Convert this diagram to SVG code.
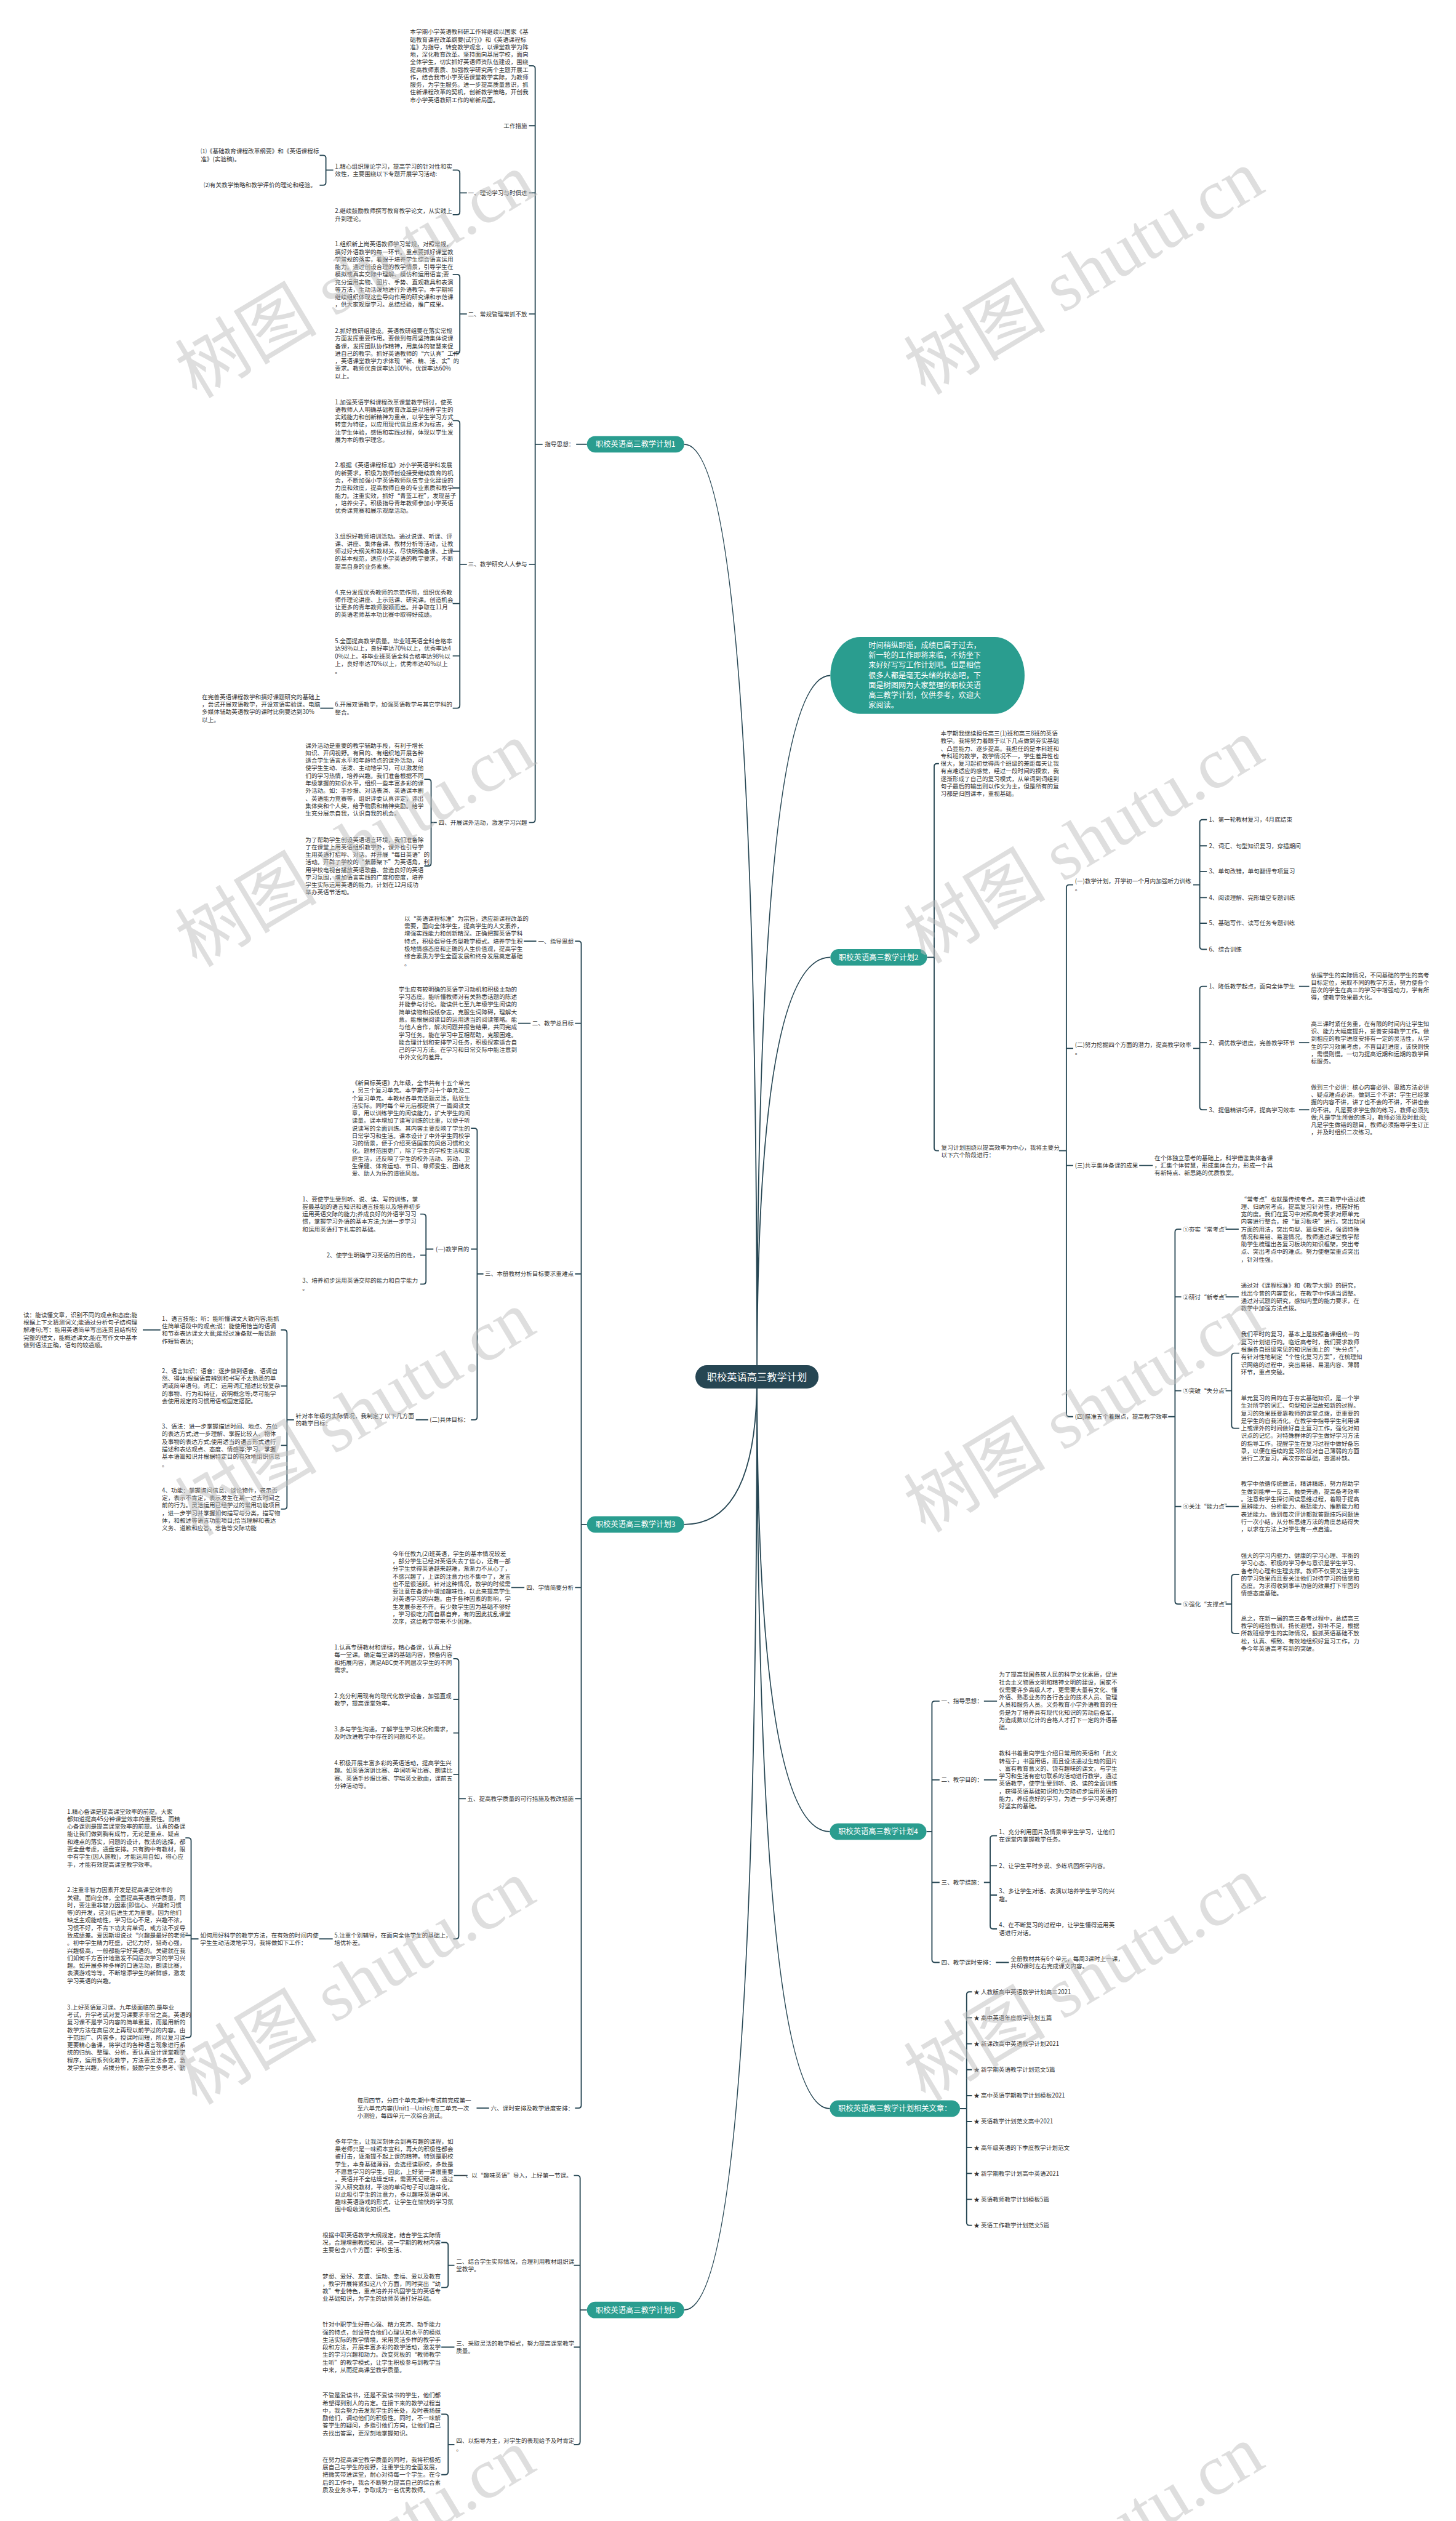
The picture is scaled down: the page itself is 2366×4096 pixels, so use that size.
<svg xmlns="http://www.w3.org/2000/svg" width="2366" height="4096" viewBox="0 0 2366 4096">
<style>
.t{font-family:"Noto Sans CJK SC","Noto Sans",sans-serif;font-size:10.4px;fill:#333}
.e{text-anchor:end}
.bn{font-family:"Noto Sans CJK SC","Noto Sans",sans-serif;font-size:13.3px;fill:#fff;text-anchor:middle}
.cn{font-family:"Noto Sans CJK SC","Noto Sans",sans-serif;font-size:17.6px;fill:#fff;text-anchor:middle}
.bb{font-family:"Noto Sans CJK SC","Noto Sans",sans-serif;font-size:13.2px;fill:#fff}
.br{fill:#2a9d8f}
.ln{fill:none;stroke:#264653;stroke-width:2}
.wm{font-family:"Liberation Serif","Noto Sans CJK SC",serif;font-size:125px;fill:#bdbdbd;fill-opacity:.5}
</style>
<rect width="2366" height="4096" fill="#fff"/>
<g transform="scale(0.9242)">
<g id="connectors" class="ln">
<path d="M1331,2421Q1331,1187.5 1460,1187.5M1331,2421Q1331,1683 1460,1683M1331,2421Q1331,3220 1459,3220M1331,2421Q1331,3707 1459,3707M1331,2421Q1331,781 1203,781M1331,2421Q1331,2680 1203,2680M1331,2421Q1331,4061 1203,4061"/>
<path d="M1032,781H1013"/>
<path d="M954,781H941M930,115.6H936Q941,115.6 941,120.6V1441Q941,1446 936,1446H930M941,221H930M941,339H930M941,552H930M941,992H930"/>
<path d="M821,339H808.5M796,299H803.5Q808.5,299 808.5,304V372.5Q808.5,377.5 803.5,377.5H796"/>
<path d="M586,299H573M562,273H568Q573,273 573,278V320.5Q573,325.5 568,325.5H562"/>
<path d="M821,552H808.5M796,482.4H803.5Q808.5,482.4 808.5,487.4V616.4Q808.5,621.4 803.5,621.4H796"/>
<path d="M821,992H808.5M796,739.5H803.5Q808.5,739.5 808.5,744.5V1240Q808.5,1245 803.5,1245H796M808.5,857.8H796M808.5,969H796M808.5,1061H796M808.5,1153H796"/>
<path d="M586,1245H563"/>
<path d="M768,1446H758M746,1370H753Q758,1370 758,1375V1517.4Q758,1522.4 753,1522.4H746"/>
<path d="M1032,2680H1022M1011,1654.5H1017Q1022,1654.5 1022,1659.5V3701Q1022,3706 1017,3706H1011M1022,1799H1011M1022,2239.5H1011M1022,2791H1011M1022,3162H1011"/>
<path d="M943,1654.5H921M933,1799H911M922,2791H899M860,3706H838"/>
<path d="M850,2239.5H839M828,1983.5H834Q839,1983.5 839,1988.5V2491Q839,2496 834,2496H828M839,2196H828"/>
<path d="M762,2196H749M739,2134.4H744Q749,2134.4 749,2139.4V2252.5Q749,2257.5 744,2257.5H739M749,2206.6H739"/>
<path d="M753,2496H731"/>
<path d="M517,2496H504.6M494,2338H499.6Q504.6,2338 504.6,2343V2648Q504.6,2653 499.6,2653H494M504.6,2436.6H494M504.6,2541H494"/>
<path d="M282,2338H251"/>
<path d="M819,3162H806.6M797,2916H801.6Q806.6,2916 806.6,2921V3403.6Q806.6,3408.6 801.6,3408.6H797M806.6,2987.6H797M806.6,3046.6H797M806.6,3119.4H797"/>
<path d="M585,3408.6H561"/>
<path d="M349,3408.6H336M326,3231H331Q336,3231 336,3236V3576.8Q336,3581.8 331,3581.8H326M336,3402.4H326"/>
<path d="M1032,4061H1020M1009,3824.5H1015Q1020,3824.5 1020,3829.5V4292.7Q1020,4297.7 1015,4297.7H1009M1020,3982.5H1009M1020,4126.3H1009"/>
<path d="M822,3824.5H798M799,4126.3H776"/>
<path d="M799,3982.5H788M776,3942.3H783Q788,3942.3 788,3947.3V4016.4Q788,4021.4 783,4021.4H776"/>
<path d="M799,4297.7H788M776,4244.2H783Q788,4244.2 788,4249.2V4345.5Q788,4350.5 783,4350.5H776"/>
<path d="M1630,1683H1642.5M1651,1342.5H1647.5Q1642.5,1342.5 1642.5,1347.5V2018Q1642.5,2023 1647.5,2023H1651"/>
<path d="M1862,2023H1875M1887,1555.6H1880Q1875,1555.6 1875,1560.6V2485.5Q1875,2490.5 1880,2490.5H1887M1875,1843H1887M1875,2049H1887"/>
<path d="M2098,1555.6H2109.5M2122,1441H2114.5Q2109.5,1441 2109.5,1446V1664Q2109.5,1669 2114.5,1669H2122M2109.5,1487H2122M2109.5,1532H2122M2109.5,1578H2122M2109.5,1623H2122"/>
<path d="M2098,1843H2109.5M2122,1734H2114.5Q2109.5,1734 2109.5,1739V1946Q2109.5,1951 2114.5,1951H2122M2109.5,1833H2122"/>
<path d="M2284,1734H2302M2284,1833H2302M2284,1951H2302M2003,2049H2027"/>
<path d="M2054,2490.5H2066M2077,2161H2071Q2066,2161 2066,2166V2815Q2066,2820 2071,2820H2077M2066,2280H2077M2066,2445H2077M2066,2648.5H2077"/>
<path d="M2155,2161H2178M2155,2280H2178M2155,2648.5H2178"/>
<path d="M2155,2445H2165.5M2179,2379H2170.5Q2165.5,2379 2165.5,2384V2506Q2165.5,2511 2170.5,2511H2179"/>
<path d="M2155,2820H2165.5M2179,2768H2170.5Q2165.5,2768 2165.5,2773V2866.6Q2165.5,2871.6 2170.5,2871.6H2179"/>
<path d="M1629,3220H1638.6M1652,2990.5H1643.6Q1638.6,2990.5 1638.6,2995.5V3445Q1638.6,3450 1643.6,3450H1652M1638.6,3129H1652M1638.6,3309.4H1652"/>
<path d="M1730,2990.5H1753M1730,3129H1753M1751,3450H1774"/>
<path d="M1730,3309.4H1741M1753,3227.3H1746Q1741,3227.3 1741,3232.3V3386Q1741,3391 1746,3391H1753M1741,3280H1753M1741,3331.5H1753"/>
<path d="M1688,3707H1699.6M1709,3501.7H1704.6Q1699.6,3501.7 1699.6,3506.7V3907.1Q1699.6,3912.1 1704.6,3912.1H1709M1699.6,3547.3H1709M1699.6,3592.9H1709M1699.6,3638.5H1709M1699.6,3684.1H1709M1699.6,3729.7H1709M1699.6,3775.3H1709M1699.6,3820.9H1709M1699.6,3866.5H1709"/>
</g>

<g id="center"><rect x="1222.7" y="2400" width="216.6" height="41" rx="20.5" fill="#264653"/><text class="cn" x="1331" y="2427.3">职校英语高三教学计划</text></g>

<g id="intro"><rect x="1460" y="1120" width="341.5" height="135" rx="52" ry="67.5" class="br"/>
<text class="bb" x="1527" y="1139.2"><tspan x="1527" dy="0">时间稍纵即逝，成绩已属于过去，</tspan><tspan x="1527" dy="17.6">新一轮的工作即将来临，不妨坐下</tspan><tspan x="1527" dy="17.6">来好好写写工作计划吧。但是相信</tspan><tspan x="1527" dy="17.6">很多人都是毫无头绪的状态吧，下</tspan><tspan x="1527" dy="17.6">面是树图网为大家整理的职校英语</tspan><tspan x="1527" dy="17.6">高三教学计划，仅供参考，欢迎大</tspan><tspan x="1527" dy="17.6">家阅读。</tspan></text></g>

<g id="b1"><rect x="1032" y="766.5" width="171" height="29" rx="14.5" class="br"/><text class="bn" x="1117.5" y="785.8">职校英语高三教学计划1</text></g>
<g id="b2"><rect x="1460" y="1668.5" width="170" height="29" rx="14.5" class="br"/><text class="bn" x="1545" y="1687.8">职校英语高三教学计划2</text></g>
<g id="b3"><rect x="1032" y="2665.5" width="171" height="29" rx="14.5" class="br"/><text class="bn" x="1117.5" y="2684.8">职校英语高三教学计划3</text></g>
<g id="b4"><rect x="1459" y="3205.5" width="170" height="29" rx="14.5" class="br"/><text class="bn" x="1544" y="3224.8">职校英语高三教学计划4</text></g>
<g id="rel"><rect x="1459" y="3692.5" width="229" height="29" rx="14.5" class="br"/><text class="bn" x="1573.5" y="3711.8">职校英语高三教学计划相关文章：</text></g>
<g id="b5"><rect x="1032" y="4046.5" width="171" height="29" rx="14.5" class="br"/><text class="bn" x="1117.5" y="4065.8">职校英语高三教学计划5</text></g>

<g id="b1-zd"><text class="t e" x="1010" y="784.8">指导思想：</text></g>
<g id="b1-p1"><text class="t" x="721" y="59.8"><tspan x="721" dy="0">本学期小学英语教科研工作将继续以国家《基</tspan><tspan x="721" dy="13.27">础教育课程改革纲要(试行)》和《英语课程标</tspan><tspan x="721" dy="13.27">准》为指导，转变教学观念，以课堂教学为阵</tspan><tspan x="721" dy="13.27">地，深化教育改革。坚持面向基层学校，面向</tspan><tspan x="721" dy="13.27">全体学生，切实抓好英语师资队伍建设，围绕</tspan><tspan x="721" dy="13.27">提高教师素质、加强教学研究两个主题开展工</tspan><tspan x="721" dy="13.27">作，结合我市小学英语课堂教学实际，为教师</tspan><tspan x="721" dy="13.27">服务，为学生服务。进一步提高质量意识，抓</tspan><tspan x="721" dy="13.27">住新课程改革的契机，创新教学策略，开创我</tspan><tspan x="721" dy="13.27">市小学英语教研工作的崭新局面。</tspan></text></g>
<g id="b1-gz"><text class="t e" x="927" y="224.8">工作措施</text></g>
<g id="b1-s1"><text class="t e" x="927" y="342.8">一、理论学习与时俱进</text></g>
<g id="b1-s1a"><text class="t" x="589" y="296.3"><tspan x="589" dy="0">1.精心组织理论学习，提高学习的针对性和实</tspan><tspan x="589" dy="13.27">效性，主要围绕以下专题开展学习活动:</tspan></text></g>
<g id="b1-s1a1"><text class="t" x="353" y="269.8"><tspan x="353" dy="0">⑴《基础教育课程改革纲要》和《英语课程标</tspan><tspan x="353" dy="13.27">准》(实验稿)。</tspan></text></g>
<g id="b1-s1a2"><text class="t e" x="556" y="329.3">⑵有关教学策略和教学评价的理论和经验。</text></g>
<g id="b1-s1b"><text class="t" x="589" y="374.8"><tspan x="589" dy="0">2.继续鼓励教师撰写教育教学论文，从实践上</tspan><tspan x="589" dy="13.27">升到理论。</tspan></text></g>
<g id="b1-s2"><text class="t e" x="927" y="555.8">二、常规管理常抓不放</text></g>
<g id="b1-s2a"><text class="t" x="589" y="433.1"><tspan x="589" dy="0">1.组织新上岗英语教师学习常规，对照常规，</tspan><tspan x="589" dy="13.27">搞好外语教学的每一环节。重点要抓好课堂教</tspan><tspan x="589" dy="13.27">学常规的落实，着眼于培养学生综合语言运用</tspan><tspan x="589" dy="13.27">能力。通过创设合理的教学情景，引导学生在</tspan><tspan x="589" dy="13.27">模拟或真实交际中理解、模仿和运用语言;要</tspan><tspan x="589" dy="13.27">充分运用实物、图片、手势、直观教具和表演</tspan><tspan x="589" dy="13.27">等方法，生动活泼地进行外语教学。本学期将</tspan><tspan x="589" dy="13.27">继续组织体现这些导向作用的研究课和示范课</tspan><tspan x="589" dy="13.27">，供大家观摩学习。总结经验，推广成果。</tspan></text></g>
<g id="b1-s2b"><text class="t" x="589" y="585.5"><tspan x="589" dy="0">2.抓好教研组建设。英语教研组要在落实常规</tspan><tspan x="589" dy="13.27">方面发挥重要作用。要做到每周坚持集体说课</tspan><tspan x="589" dy="13.27">备课，发挥团队协作精神，用集体的智慧来促</tspan><tspan x="589" dy="13.27">进自己的教学。抓好英语教师的“六认真”工作</tspan><tspan x="589" dy="13.27">，英语课堂教学力求体现“新、精、活、实”的</tspan><tspan x="589" dy="13.27">要求。教师优良课率达100%，优课率达60%</tspan><tspan x="589" dy="13.27">以上。</tspan></text></g>
<g id="b1-s3"><text class="t e" x="927" y="995.8">三、教学研究人人参与</text></g>
<g id="b1-s3a"><text class="t" x="589" y="710.4"><tspan x="589" dy="0">1.加强英语学科课程改革课堂教学研讨，使英</tspan><tspan x="589" dy="13.27">语教师人人明确基础教育改革是以培养学生的</tspan><tspan x="589" dy="13.27">实践能力和创新精神为重点，以学生学习方式</tspan><tspan x="589" dy="13.27">转变为特征，以应用现代信息技术为标志，关</tspan><tspan x="589" dy="13.27">注学生体验，感悟和实践过程，体现以学生发</tspan><tspan x="589" dy="13.27">展为本的教学理念。</tspan></text></g>
<g id="b1-s3b"><text class="t" x="589" y="821.8"><tspan x="589" dy="0">2.根据《英语课程标准》对小学英语学科发展</tspan><tspan x="589" dy="13.27">的新要求，积极为教师创设接受继续教育的机</tspan><tspan x="589" dy="13.27">会，不断加强小学英语教师队伍专业化建设的</tspan><tspan x="589" dy="13.27">力度和效度，提高教师自身的专业素质和教学</tspan><tspan x="589" dy="13.27">能力。注重实效，抓好“青蓝工程”，发现苗子</tspan><tspan x="589" dy="13.27">，培养尖子。积极指导青年教师参加小学英语</tspan><tspan x="589" dy="13.27">优秀课竞赛和展示观摩活动。</tspan></text></g>
<g id="b1-s3c"><text class="t" x="589" y="946.3"><tspan x="589" dy="0">3.组织好教师培训活动。通过说课、听课、评</tspan><tspan x="589" dy="13.27">课、讲座、集体备课、教材分析等活动，让教</tspan><tspan x="589" dy="13.27">师过好大纲关和教材关，尽快明确备课、上课</tspan><tspan x="589" dy="13.27">的基本规范，适应小学英语的教学要求，不断</tspan><tspan x="589" dy="13.27">提高自身的业务素质。</tspan></text></g>
<g id="b1-s3d"><text class="t" x="589" y="1044.8"><tspan x="589" dy="0">4.充分发挥优秀教师的示范作用，组织优秀教</tspan><tspan x="589" dy="13.27">师作理论讲座、上示范课、研究课。创造机会</tspan><tspan x="589" dy="13.27">让更多的青年教师脱颖而出。并争取在11月</tspan><tspan x="589" dy="13.27">的英语老师基本功比赛中取得好成绩。</tspan></text></g>
<g id="b1-s3e"><text class="t" x="589" y="1130.8"><tspan x="589" dy="0">5.全面提高教学质量。毕业班英语全科合格率</tspan><tspan x="589" dy="13.27">达98%以上，良好率达70%以上，优秀率达4</tspan><tspan x="589" dy="13.27">0%以上。非毕业班英语全科合格率达98%以</tspan><tspan x="589" dy="13.27">上，良好率达70%以上，优秀率达40%以上</tspan><tspan x="589" dy="13.27">。</tspan></text></g>
<g id="b1-s3f"><text class="t" x="589" y="1242.5"><tspan x="589" dy="0">6.开展双语教学，加强英语教学与其它学科的</tspan><tspan x="589" dy="13.27">整合。</tspan></text></g>
<g id="b1-s3f1"><text class="t" x="355" y="1229"><tspan x="355" dy="0">在完善英语课程教学和搞好课题研究的基础上</tspan><tspan x="355" dy="13.27">，尝试开展双语教学，开设双语实验课。电脑</tspan><tspan x="355" dy="13.27">多媒体辅助英语教学的课时比例要达到30%</tspan><tspan x="355" dy="13.27">以上。</tspan></text></g>
<g id="b1-s4"><text class="t e" x="927" y="1449.8">四、开展课外活动，激发学习兴趣</text></g>
<g id="b1-s4a"><text class="t" x="537" y="1314.3"><tspan x="537" dy="0">课外活动是重要的教学辅助手段，有利于增长</tspan><tspan x="537" dy="13.27">知识、开阔视野。有目的、有组织地开展各种</tspan><tspan x="537" dy="13.27">适合学生语言水平和年龄特点的课外活动，可</tspan><tspan x="537" dy="13.27">使学生生动、活泼、主动地学习，可以激发他</tspan><tspan x="537" dy="13.27">们的学习热情，培养兴趣。我们准备根据不同</tspan><tspan x="537" dy="13.27">年级掌握的知识水平，组织一些丰富多彩的课</tspan><tspan x="537" dy="13.27">外活动。如：手抄报、对话表演、英语课本剧</tspan><tspan x="537" dy="13.27">、英语能力竞赛等，组织评委认真评定，评出</tspan><tspan x="537" dy="13.27">集体奖和个人奖，给予物质和精神奖励。给学</tspan><tspan x="537" dy="13.27">生充分展示自我，认识自我的机会。</tspan></text></g>
<g id="b1-s4b"><text class="t" x="537" y="1479.8"><tspan x="537" dy="0">为了帮助学生创设英语语言环境，我们准备除</tspan><tspan x="537" dy="13.27">了在课堂上用英语组织教学外，课外也引导学</tspan><tspan x="537" dy="13.27">生用英语打招呼、对话。并开展“每日英语”的</tspan><tspan x="537" dy="13.27">活动。开辟了学校的“紫藤架下”为英语角，利</tspan><tspan x="537" dy="13.27">用学校电视台播放英语歌曲、营造良好的英语</tspan><tspan x="537" dy="13.27">学习氛围，增加语言实践的广度和密度，培养</tspan><tspan x="537" dy="13.27">学生实际运用英语的能力。计划在12月成功</tspan><tspan x="537" dy="13.27">举办英语节活动。</tspan></text></g>

<g id="b3-s1"><text class="t e" x="1008.6" y="1658.3">一、指导思想</text></g>
<g id="b3-s1a"><text class="t" x="711" y="1618.5"><tspan x="711" dy="0">以“英语课程标准”为宗旨，适应新课程改革的</tspan><tspan x="711" dy="13.27">需要，面向全体学生，提高学生的人文素养，</tspan><tspan x="711" dy="13.27">增强实践能力和创新精深。正确把握英语学科</tspan><tspan x="711" dy="13.27">特点，积极倡导任务型教学模式。培养学生积</tspan><tspan x="711" dy="13.27">极地情感态度和正确的人生价值观，提高学生</tspan><tspan x="711" dy="13.27">综合素质为学生全面发展和终身发展奠定基础</tspan><tspan x="711" dy="13.27">。</tspan></text></g>
<g id="b3-s2"><text class="t e" x="1008.6" y="1802.8">二、教学总目标</text></g>
<g id="b3-s2a"><text class="t" x="701" y="1743.1"><tspan x="701" dy="0">学生应有较明确的英语学习动机和积极主动的</tspan><tspan x="701" dy="13.27">学习态度。能听懂教师对有关熟悉话题的陈述</tspan><tspan x="701" dy="13.27">并能参与讨论。能读供七至九年级学生阅读的</tspan><tspan x="701" dy="13.27">简单读物和报纸杂志，克服生词障碍，理解大</tspan><tspan x="701" dy="13.27">意。能根据阅读目的运用适当的阅读策略。能</tspan><tspan x="701" dy="13.27">与他人合作，解决问题并报告结果，共同完成</tspan><tspan x="701" dy="13.27">学习任务。能在学习中互相帮助，克服困难。</tspan><tspan x="701" dy="13.27">能合理计划和安排学习任务，积极探索适合自</tspan><tspan x="701" dy="13.27">己的学习方法。在学习和日常交际中能注意到</tspan><tspan x="701" dy="13.27">中外文化的差异。</tspan></text></g>
<g id="b3-s3"><text class="t e" x="1008.6" y="2243.3">三、本册教材分析目标要求重难点</text></g>
<g id="b3-s3a"><text class="t" x="618.6" y="1907.7"><tspan x="618.6" dy="0">《新目标英语》九年级，全书共有十五个单元</tspan><tspan x="618.6" dy="13.27">，另三个复习单元。本学期学习十个单元及二</tspan><tspan x="618.6" dy="13.27">个复习单元。本教材各单元话题灵活，贴近生</tspan><tspan x="618.6" dy="13.27">活实际。同时每个单元后都提供了一篇阅读文</tspan><tspan x="618.6" dy="13.27">章，用以训练学生的阅读能力，扩大学生的阅</tspan><tspan x="618.6" dy="13.27">读量。课本增加了读写训练的比重，以便于听</tspan><tspan x="618.6" dy="13.27">说读写的全面训练。其内容主要反映了学生的</tspan><tspan x="618.6" dy="13.27">日常学习和生活。课本设计了中外学生同校学</tspan><tspan x="618.6" dy="13.27">习的情景，便于介绍英语国家的风俗习惯和文</tspan><tspan x="618.6" dy="13.27">化。题材范围更广，除了学生的学校生活和家</tspan><tspan x="618.6" dy="13.27">庭生活，还反映了学生的校外活动、劳动、卫</tspan><tspan x="618.6" dy="13.27">生保健、体育运动、节日、尊师爱生、团结友</tspan><tspan x="618.6" dy="13.27">爱、助人为乐的道德风尚。</tspan></text></g>
<g id="b3-s3b"><text class="t e" x="825" y="2199.8">(一)教学目的</text></g>
<g id="b3-s3b1"><text class="t" x="531.6" y="2111.7"><tspan x="531.6" dy="0">1、要使学生受到听、说、读、写的训练，掌</tspan><tspan x="531.6" dy="13.27">握最基础的语言知识和语言技能以及培养初步</tspan><tspan x="531.6" dy="13.27">运用英语交际的能力;养成良好的外语学习习</tspan><tspan x="531.6" dy="13.27">惯，掌握学习外语的基本方法;为进一步学习</tspan><tspan x="531.6" dy="13.27">和运用英语打下扎实的基础。</tspan></text></g>
<g id="b3-s3b2"><text class="t e" x="736" y="2210.4">2、使学生明确学习英语的目的性，</text></g>
<g id="b3-s3b3"><text class="t" x="531.6" y="2254.7"><tspan x="531.6" dy="0">3、培养初步运用英语交际的能力和自学能力</tspan><tspan x="531.6" dy="13.27">。</tspan></text></g>
<g id="b3-s3c"><text class="t e" x="825" y="2499.8">(二)具体目标：</text></g>
<g id="b3-s3c1"><text class="t" x="520" y="2493.2"><tspan x="520" dy="0">针对本年级的实际情况，我制定了以下几方面</tspan><tspan x="520" dy="13.27">的教学目标：</tspan></text></g>
<g id="b3-g1"><text class="t" x="284.7" y="2321.9"><tspan x="284.7" dy="0">1、语言技能：听：能听懂课文大致内容;能抓</tspan><tspan x="284.7" dy="13.27">住简单语段中的观点;说：能使用恰当的语调</tspan><tspan x="284.7" dy="13.27">和节奏表达课文大意;能经过准备就一般话题</tspan><tspan x="284.7" dy="13.27">作短暂表达;</tspan></text></g>
<g id="b3-g1a"><text class="t" x="41" y="2315.3"><tspan x="41" dy="0">读：能读懂文章，识别不同的观点和态度;能</tspan><tspan x="41" dy="13.27">根据上下文猜测词义;能通过分析句子结构理</tspan><tspan x="41" dy="13.27">解难句;写：能用英语简单写出连贯且结构较</tspan><tspan x="41" dy="13.27">完整的短文，能概述课文;能在写作文中基本</tspan><tspan x="41" dy="13.27">做到语法正确，语句的较通顺。</tspan></text></g>
<g id="b3-g2"><text class="t" x="284.7" y="2413.9"><tspan x="284.7" dy="0">2、语言知识：语音：逐步做到语音、语调自</tspan><tspan x="284.7" dy="13.27">然、得体;根据语音辨别和书写不太熟悉的单</tspan><tspan x="284.7" dy="13.27">词或简单语句。词汇：运用词汇描述比较复杂</tspan><tspan x="284.7" dy="13.27">的事物、行为和特征，说明概念等;尽可能学</tspan><tspan x="284.7" dy="13.27">会使用规定的习惯用语或固定搭配。</tspan></text></g>
<g id="b3-g3"><text class="t" x="284.7" y="2511.6"><tspan x="284.7" dy="0">3、语法：进一步掌握描述时间、地点、方位</tspan><tspan x="284.7" dy="13.27">的表达方式;进一步理解、掌握比较人、物体</tspan><tspan x="284.7" dy="13.27">及事物的表达方式;使用适当的语言形式进行</tspan><tspan x="284.7" dy="13.27">描述和表达观点、态度、情感等;学习、掌握</tspan><tspan x="284.7" dy="13.27">基本语篇知识并根据特定目的有效地组织信息</tspan><tspan x="284.7" dy="13.27">。</tspan></text></g>
<g id="b3-g4"><text class="t" x="284.7" y="2623.6"><tspan x="284.7" dy="0">4、功能：掌握询问信息、谈论物件，表示否</tspan><tspan x="284.7" dy="13.27">定，表示不肯定，表示发生在某一过去时间之</tspan><tspan x="284.7" dy="13.27">前的行为。灵活运用已经学过的常用功能项目</tspan><tspan x="284.7" dy="13.27">，进一步学习并掌握如何描写与分类，描写物</tspan><tspan x="284.7" dy="13.27">体，和叙述等语言功能项目;恰当理解和表达</tspan><tspan x="284.7" dy="13.27">义务、道歉和应答，忠告等交际功能</tspan></text></g>
<g id="b3-s4"><text class="t e" x="1008.6" y="2794.8">四、学情简要分析</text></g>
<g id="b3-s4a"><text class="t" x="690" y="2735.1"><tspan x="690" dy="0">今年任教九(2)班英语，学生的基本情况较差</tspan><tspan x="690" dy="13.27">，部分学生已经对英语失去了信心，还有一部</tspan><tspan x="690" dy="13.27">分学生觉得英语越来越难，渐渐力不从心了，</tspan><tspan x="690" dy="13.27">不感兴趣了，上课的注意力也不集中了，发言</tspan><tspan x="690" dy="13.27">也不是很活跃。针对这种情况，教学的时候需</tspan><tspan x="690" dy="13.27">要注意在备课中增加趣味性，以此来提高学生</tspan><tspan x="690" dy="13.27">对英语学习的兴趣。由于各种因素的影响，学</tspan><tspan x="690" dy="13.27">生发展参差不齐。有少数学生因为基础不够好</tspan><tspan x="690" dy="13.27">，学习很吃力而自暴自弃，有的因此扰乱课堂</tspan><tspan x="690" dy="13.27">次序，这给教学带来不少困难。</tspan></text></g>
<g id="b3-s5"><text class="t e" x="1008.6" y="3165.8">五、提高教学质量的可行措施及教改措施</text></g>
<g id="b3-s5a"><text class="t" x="587.7" y="2899.9"><tspan x="587.7" dy="0">1.认真专研教材和课标，精心备课，认真上好</tspan><tspan x="587.7" dy="13.27">每一堂课。确定每堂课的基础内容，预备内容</tspan><tspan x="587.7" dy="13.27">和拓展内容，满足ABC类不同层次学生的不同</tspan><tspan x="587.7" dy="13.27">需求。</tspan></text></g>
<g id="b3-s5b"><text class="t" x="587.7" y="2984.8"><tspan x="587.7" dy="0">2.充分利用现有的现代化教学设备，加强直观</tspan><tspan x="587.7" dy="13.27">教学，提高课堂效率。</tspan></text></g>
<g id="b3-s5c"><text class="t" x="587.7" y="3043.8"><tspan x="587.7" dy="0">3.多与学生沟通，了解学生学习状况和需求，</tspan><tspan x="587.7" dy="13.27">及时改进教学中存在的问题和不足。</tspan></text></g>
<g id="b3-s5d"><text class="t" x="587.7" y="3103.3"><tspan x="587.7" dy="0">4.积极开展丰富多彩的英语活动，提高学生兴</tspan><tspan x="587.7" dy="13.27">趣。如英语演讲比赛、单词听写比赛、朗读比</tspan><tspan x="587.7" dy="13.27">赛、英语手抄报比赛、学唱英文歌曲，课前五</tspan><tspan x="587.7" dy="13.27">分钟活动等。</tspan></text></g>
<g id="b3-s5e"><text class="t" x="587.7" y="3405.8"><tspan x="587.7" dy="0">5.注重个别辅导，在面向全体学生的基础上，</tspan><tspan x="587.7" dy="13.27">培优补差。</tspan></text></g>
<g id="b3-s5e1"><text class="t" x="352" y="3405.8"><tspan x="352" dy="0">如何用好科学的教学方法，在有效的时间内使</tspan><tspan x="352" dy="13.27">学生生动活泼地学习，我将做如下工作：</tspan></text></g>
<g id="b3-w1"><text class="t" x="118" y="3188.4"><tspan x="118" dy="0">1.精心备课是提高课堂效率的前提。大家</tspan><tspan x="118" dy="13.27">都知道提高45分钟课堂效率的重要性。而精</tspan><tspan x="118" dy="13.27">心备课则是提高课堂效率的前提。认真的备课</tspan><tspan x="118" dy="13.27">能让我们做到胸有成竹，无论是重点、疑点</tspan><tspan x="118" dy="13.27">和难点的落实，问题的设计，教法的选择，都</tspan><tspan x="118" dy="13.27">要全盘考虑，通盘安排。只有胸中有教材，眼</tspan><tspan x="118" dy="13.27">中有学生(因人施教)，才能运用自如，得心应</tspan><tspan x="118" dy="13.27">手，才能有效提高课堂教学效率。</tspan></text></g>
<g id="b3-w2"><text class="t" x="118" y="3326.6"><tspan x="118" dy="0">2.注重非智力因素开发是提高课堂效率的</tspan><tspan x="118" dy="13.27">关键。面向全体，全面提高英语教学质量，同</tspan><tspan x="118" dy="13.27">时，要注重非智力因素(即信心、兴趣和习惯</tspan><tspan x="118" dy="13.27">等)的开发，这对后进生尤为重要。因为他们</tspan><tspan x="118" dy="13.27">缺乏主观能动性，学习信心不足，兴趣不浓，</tspan><tspan x="118" dy="13.27">习惯不好，不肯下功夫背单词，或方法不妥导</tspan><tspan x="118" dy="13.27">致成绩差。爱因斯坦说过“兴趣是最好的老师”</tspan><tspan x="118" dy="13.27">。初中学生精力旺盛，记忆力好，猎奇心强，</tspan><tspan x="118" dy="13.27">兴趣极高，一般都能学好英语的。关键就在我</tspan><tspan x="118" dy="13.27">们如何千方百计地激发不同层次学习的学习兴</tspan><tspan x="118" dy="13.27">趣。如开展多种多样的口语活动，朗读比赛，</tspan><tspan x="118" dy="13.27">表演游戏等等。不断增添学生的新鲜感，激发</tspan><tspan x="118" dy="13.27">学习英语的兴趣。</tspan></text></g>
<g id="b3-w3"><text class="t" x="118" y="3532.5"><tspan x="118" dy="0">3.上好英语复习课。九年级面临的.是毕业</tspan><tspan x="118" dy="13.27">考试，升学考试对复习课要求非常之高。英语的</tspan><tspan x="118" dy="13.27">复习课不是学习内容的简单重复，而是用新的</tspan><tspan x="118" dy="13.27">教学方法在高层次上再现以前学过的内容。由</tspan><tspan x="118" dy="13.27">于范围广、内容多，授课时间短，所以复习课</tspan><tspan x="118" dy="13.27">更要精心备课，将学过的各种语言现象进行系</tspan><tspan x="118" dy="13.27">统的归纳、整理、分析。要认真设计课堂教学</tspan><tspan x="118" dy="13.27">程序，运用系列化教学，方法要灵活多变，激</tspan><tspan x="118" dy="13.27">发学生兴趣，点拨分析，鼓励学生多思考、勤</tspan></text></g>
<g id="b3-s6"><text class="t e" x="1008.6" y="3709.8">六、课时安排及教学进度安排：</text></g>
<g id="b3-s6a"><text class="t" x="628" y="3696.5"><tspan x="628" dy="0">每周四节，分四个单元;期中考试前完成第一</tspan><tspan x="628" dy="13.27">至六单元内容(Unit1—Unit6);每二单元一次</tspan><tspan x="628" dy="13.27">小测验，每四单元一次综合测试。</tspan></text></g>

<g id="b5-s1"><text class="t e" x="1006" y="3828.3">一、以“趣味英语”导入，上好第一节课。</text></g>
<g id="b5-s1a"><text class="t" x="589" y="3768.6"><tspan x="589" dy="0">多年学生，让我深刻体会到再有趣的课程，如</tspan><tspan x="589" dy="13.27">果老师只是一味照本宣科，再大的积极性都会</tspan><tspan x="589" dy="13.27">被打击，逐渐提不起上课的精神。特别是职校</tspan><tspan x="589" dy="13.27">学生，本身基础薄弱，会选择读职校，多数是</tspan><tspan x="589" dy="13.27">不愿意学习的学生。因此，上好第一课很重要</tspan><tspan x="589" dy="13.27">。英语并不全枯燥乏味，需要死记硬背，通过</tspan><tspan x="589" dy="13.27">深入研究教材，平淡的单词句子可以趣味化，</tspan><tspan x="589" dy="13.27">以此吸引学生的注意力，多以趣味英语单词、</tspan><tspan x="589" dy="13.27">趣味英语游戏的形式，让学生在愉快的学习氛</tspan><tspan x="589" dy="13.27">围中吸收消化知识点。</tspan></text></g>
<g id="b5-s2"><text class="t" x="802" y="3979.7"><tspan x="802" dy="0">二、结合学生实际情况，合理利用教材组织课</tspan><tspan x="802" dy="13.27">堂教学。</tspan></text></g>
<g id="b5-s2a"><text class="t" x="567" y="3932.8"><tspan x="567" dy="0">根据中职英语教学大纲规定，结合学生实际情</tspan><tspan x="567" dy="13.27">况，合理增删教授知识。这一学期的教材内容</tspan><tspan x="567" dy="13.27">主要包含八个方面：学校生活、</tspan></text></g>
<g id="b5-s2b"><text class="t" x="567" y="4005.3"><tspan x="567" dy="0">梦想、爱好、友谊、运动、幸福、爱以及教育</tspan><tspan x="567" dy="13.27">，教学开展将紧扣这八个方面，同时突出“幼</tspan><tspan x="567" dy="13.27">教”专业特色，重点培养并巩固学生的英语专</tspan><tspan x="567" dy="13.27">业基础知识，为学生的幼师英语打好基础。</tspan></text></g>
<g id="b5-s3"><text class="t" x="802" y="4123.5"><tspan x="802" dy="0">三、采取灵活的教学模式，努力提高课堂教学</tspan><tspan x="802" dy="13.27">质量。</tspan></text></g>
<g id="b5-s3a"><text class="t" x="567" y="4090.3"><tspan x="567" dy="0">针对中职学生好奇心强、精力充沛、动手能力</tspan><tspan x="567" dy="13.27">强的特点，创设符合他们心理认知水平的模拟</tspan><tspan x="567" dy="13.27">生活实际的教学情境，采用灵活多样的教学手</tspan><tspan x="567" dy="13.27">段和方法，开展丰富多彩的教学活动，激发学</tspan><tspan x="567" dy="13.27">生的学习兴趣和动力。改变死板的“教师教学</tspan><tspan x="567" dy="13.27">生听”的教学模式，让学生积极参与到教学当</tspan><tspan x="567" dy="13.27">中来，从而提高课堂教学质量。</tspan></text></g>
<g id="b5-s4"><text class="t" x="802" y="4294.8"><tspan x="802" dy="0">四、以指导为主，对学生的表现给予及时肯定</tspan><tspan x="802" dy="13.27">。</tspan></text></g>
<g id="b5-s4a"><text class="t" x="567" y="4214.8"><tspan x="567" dy="0">不管是爱读书，还是不爱读书的学生，他们都</tspan><tspan x="567" dy="13.27">希望得到别人的肯定。在接下来的教学过程当</tspan><tspan x="567" dy="13.27">中，我会努力去发现学生的长处，及时表扬鼓</tspan><tspan x="567" dy="13.27">励他们，调动他们的积极性。同时，不一味解</tspan><tspan x="567" dy="13.27">答学生的疑问，多指引他们方向，让他们自己</tspan><tspan x="567" dy="13.27">去找出答案，更深刻地掌握知识。</tspan></text></g>
<g id="b5-s4b"><text class="t" x="567" y="4327.8"><tspan x="567" dy="0">在努力提高课堂教学质量的同时，我将积极拓</tspan><tspan x="567" dy="13.27">展自己与学生的视野，注重学生的全面发展，</tspan><tspan x="567" dy="13.27">把微笑带进课堂，耐心对待每一个学生。在今</tspan><tspan x="567" dy="13.27">后的工作中，我会不断努力提高自己的综合素</tspan><tspan x="567" dy="13.27">质及业务水平，争取成为一名优秀教师。</tspan></text></g>

<g id="b2-p1"><text class="t" x="1654" y="1293.2"><tspan x="1654" dy="0">本学期我继续担任高三(1)班和高三8班的英语</tspan><tspan x="1654" dy="13.27">教学。我将努力着眼于以下几点做到夯实基础</tspan><tspan x="1654" dy="13.27">、凸显能力、逐步提高。我担任的是本科班和</tspan><tspan x="1654" dy="13.27">专科班的教学，教学情况不一，学生差异性也</tspan><tspan x="1654" dy="13.27">很大，复习起初觉得两个班级的差距每天让我</tspan><tspan x="1654" dy="13.27">有点难适应的感觉，经过一段时间的摸索，我</tspan><tspan x="1654" dy="13.27">逐渐形成了自己的复习模式，从单词到词组到</tspan><tspan x="1654" dy="13.27">句子最后的输出则以作文为主，但是所有的复</tspan><tspan x="1654" dy="13.27">习都是归回课本，重视基础。</tspan></text></g>
<g id="b2-fx"><text class="t" x="1655" y="2020.8"><tspan x="1655" dy="0">复习计划围绕以提高效率为中心，我将主要分</tspan><tspan x="1655" dy="13.27">以下六个阶段进行：</tspan></text></g>
<g id="b2-s1"><text class="t" x="1890" y="1552.8"><tspan x="1890" dy="0">(一)教学计划，开学初一个月内加强听力训练</tspan><tspan x="1890" dy="13.27">。</tspan></text></g>
<g id="b2-s1i"><text class="t" x="2125.6" y="1444.8">1、第一轮教材复习，4月底结束</text><text class="t" x="2125.6" y="1490.8">2、词汇、句型知识复习，穿插期间</text><text class="t" x="2125.6" y="1535.8">3、单句改错，单句翻译专项复习</text><text class="t" x="2125.6" y="1581.8">4、阅读理解、完形填空专题训练</text><text class="t" x="2125.6" y="1626.8">5、基础写作、读写任务专题训练</text><text class="t" x="2125.6" y="1672.8">6、综合训练</text></g>
<g id="b2-s2"><text class="t" x="1890" y="1840.2"><tspan x="1890" dy="0">(二)努力挖掘四个方面的潜力，提高教学效率</tspan><tspan x="1890" dy="13.27">。</tspan></text></g>
<g id="b2-s2a"><text class="t" x="2125.6" y="1737.8">1、降低教学起点，面向全体学生</text></g>
<g id="b2-s2a1"><text class="t" x="2305" y="1717.9"><tspan x="2305" dy="0">依据学生的实际情况，不同基础的学生的高考</tspan><tspan x="2305" dy="13.27">目标定位，采取不同的教学方法，努力使各个</tspan><tspan x="2305" dy="13.27">层次的学生在高三的学习中增强动力，学有所</tspan><tspan x="2305" dy="13.27">得，使教学效果最大化。</tspan></text></g>
<g id="b2-s2b"><text class="t" x="2125.6" y="1836.8">2、调优教学进度，完善教学环节</text></g>
<g id="b2-s2b1"><text class="t" x="2305" y="1803.6"><tspan x="2305" dy="0">高三课时紧任务重，在有限的时间内让学生知</tspan><tspan x="2305" dy="13.27">识、能力大幅度提升，妥善安排教学工作。做</tspan><tspan x="2305" dy="13.27">到相应的教学进度安排有一定的灵活性，从学</tspan><tspan x="2305" dy="13.27">生的学习效果考虑，不盲目赶进度，该快则快</tspan><tspan x="2305" dy="13.27">，需慢则慢。一切为提高近期和远期的教学目</tspan><tspan x="2305" dy="13.27">标服务。</tspan></text></g>
<g id="b2-s2c"><text class="t" x="2125.6" y="1954.8">3、提倡精讲巧评，提高学习效率</text></g>
<g id="b2-s2c1"><text class="t" x="2305" y="1915"><tspan x="2305" dy="0">做到三个必讲：核心内容必讲、思路方法必讲</tspan><tspan x="2305" dy="13.27">、疑点难点必讲。做到三个不讲：学生已经掌</tspan><tspan x="2305" dy="13.27">握的内容不讲，讲了也不会的不讲，不讲也会</tspan><tspan x="2305" dy="13.27">的不讲。凡是要求学生做的练习，教师必须先</tspan><tspan x="2305" dy="13.27">做;凡是学生所做的练习，教师必须及时批阅;</tspan><tspan x="2305" dy="13.27">凡是学生做错的题目，教师必须指导学生订正</tspan><tspan x="2305" dy="13.27">，并及时组织二次练习。</tspan></text></g>
<g id="b2-s3"><text class="t" x="1890" y="2052.8">(三)共享集体备课的成果</text></g>
<g id="b2-s3a"><text class="t" x="2030" y="2039.5"><tspan x="2030" dy="0">在个体独立思考的基础上，科学借鉴集体备课</tspan><tspan x="2030" dy="13.27">，汇集个体智慧，形成集体合力，形成一个具</tspan><tspan x="2030" dy="13.27">有新特点、新思路的优质教案。</tspan></text></g>
<g id="b2-s4"><text class="t" x="1890" y="2494.3">(四)瞄准五个着眼点，提高教学效率</text></g>
<g id="b2-k1"><text class="t" x="2080" y="2164.8">①夯实“常考点”</text></g>
<g id="b2-k1a"><text class="t" x="2182" y="2111.7"><tspan x="2182" dy="0">“常考点”也就是传统考点。高三教学中通过梳</tspan><tspan x="2182" dy="13.27">理、归纳常考点，提高复习针对性，把握好拓</tspan><tspan x="2182" dy="13.27">宽的度。我们在复习中对照高考要求对原单元</tspan><tspan x="2182" dy="13.27">内容进行整合，按“复习板块”进行。突出动词</tspan><tspan x="2182" dy="13.27">方面的用法，突出句型、篇章知识，强调特殊</tspan><tspan x="2182" dy="13.27">情况和易错、易混情况。教师通过课堂教学帮</tspan><tspan x="2182" dy="13.27">助学生梳理出各复习板块的知识框架，突出考</tspan><tspan x="2182" dy="13.27">点、突出考点中的难点。努力使框架重点突出</tspan><tspan x="2182" dy="13.27">，针对性强。</tspan></text></g>
<g id="b2-k2"><text class="t" x="2080" y="2283.8">②研讨“新考点”</text></g>
<g id="b2-k2a"><text class="t" x="2182" y="2263.9"><tspan x="2182" dy="0">通过对《课程标准》和《教学大纲》的研究，</tspan><tspan x="2182" dy="13.27">找出今昔的内容变化，在教学中作适当调整。</tspan><tspan x="2182" dy="13.27">通过对试题的研究，感知内里的能力要求，在</tspan><tspan x="2182" dy="13.27">教学中加强方法点拨。</tspan></text></g>
<g id="b2-k3"><text class="t" x="2080" y="2448.8">③突破“失分点”</text></g>
<g id="b2-k3a"><text class="t" x="2182" y="2349.6"><tspan x="2182" dy="0">我们平时的复习，基本上是按照备课组统一的</tspan><tspan x="2182" dy="13.27">复习计划进行的。临近高考时，我们要求教师</tspan><tspan x="2182" dy="13.27">根据各自班级常见的知识层面上的“失分点”，</tspan><tspan x="2182" dy="13.27">有针对性地制定“个性化复习方案”，在梳理知</tspan><tspan x="2182" dy="13.27">识网络的过程中，突出易错、易混内容、薄弱</tspan><tspan x="2182" dy="13.27">环节，重点突破。</tspan></text></g>
<g id="b2-k3b"><text class="t" x="2182" y="2461.7"><tspan x="2182" dy="0">单元复习的目的在于夯实基础知识，是一个学</tspan><tspan x="2182" dy="13.27">生对所学的词汇、句型知识温故知新的过程。</tspan><tspan x="2182" dy="13.27">复习的效果既要靠教师的课堂点拨，更重要的</tspan><tspan x="2182" dy="13.27">是学生的自我消化。在教学中指导学生利用课</tspan><tspan x="2182" dy="13.27">上或课外的时间做好自主复习工作，强化对知</tspan><tspan x="2182" dy="13.27">识点的记忆。对特殊群体的学生做好学习方法</tspan><tspan x="2182" dy="13.27">的指导工作。提醒学生在复习过程中做好备忘</tspan><tspan x="2182" dy="13.27">录，以便在后续的复习阶段对自己薄弱的方面</tspan><tspan x="2182" dy="13.27">进行二次复习，再次夯实基础，查漏补缺。</tspan></text></g>
<g id="b2-k4"><text class="t" x="2080" y="2652.3">④关注“能力点”</text></g>
<g id="b2-k4a"><text class="t" x="2182" y="2612.5"><tspan x="2182" dy="0">教学中依循传统做法，精讲精练，努力帮助学</tspan><tspan x="2182" dy="13.27">生做到能举一反三、触类旁通，提高备考效率</tspan><tspan x="2182" dy="13.27">。注意和学生探讨阅读思维过程，着眼于提高</tspan><tspan x="2182" dy="13.27">思辨能力、分析能力、概括能力、推断能力和</tspan><tspan x="2182" dy="13.27">表述能力。做到每次评讲都就答题技巧问题进</tspan><tspan x="2182" dy="13.27">行一次小结，从分析思维方法的角度总结得失</tspan><tspan x="2182" dy="13.27">，以求在方法上对学生有一点启迪。</tspan></text></g>
<g id="b2-k5"><text class="t" x="2080" y="2823.8">⑤强化“支撑点”</text></g>
<g id="b2-k5a"><text class="t" x="2182" y="2738.6"><tspan x="2182" dy="0">强大的学习内驱力、健康的学习心理、平衡的</tspan><tspan x="2182" dy="13.27">学习心态、积极的学习参与意识是学生学习、</tspan><tspan x="2182" dy="13.27">备考的心理和生理支撑。教师不仅要关注学生</tspan><tspan x="2182" dy="13.27">的学习效果而且要关注他们对待学习的情感和</tspan><tspan x="2182" dy="13.27">态度。为求得收到事半功倍的效果打下牢固的</tspan><tspan x="2182" dy="13.27">情感态度基础。</tspan></text></g>
<g id="b2-k5b"><text class="t" x="2182" y="2848.9"><tspan x="2182" dy="0">总之，在新一届的高三备考过程中，总结高三</tspan><tspan x="2182" dy="13.27">教学的经验教训，扬长避短，弥补不足，根据</tspan><tspan x="2182" dy="13.27">所教班级学生的实际情况，狠抓英语基础不放</tspan><tspan x="2182" dy="13.27">松，认真、细致、有效地组织好复习工作，力</tspan><tspan x="2182" dy="13.27">争今年英语高考有新的突破。</tspan></text></g>

<g id="b4-s1"><text class="t" x="1655" y="2994.3">一、指导思想：</text></g>
<g id="b4-s1a"><text class="t" x="1756.5" y="2947.9"><tspan x="1756.5" dy="0">为了提高我国各族人民的科学文化素质，促进</tspan><tspan x="1756.5" dy="13.27">社会主义物质文明和精神文明的建设，国家不</tspan><tspan x="1756.5" dy="13.27">仅需要许多高级人才，更需要大量有文化、懂</tspan><tspan x="1756.5" dy="13.27">外语、熟悉业务的各行各业的技术人员、管理</tspan><tspan x="1756.5" dy="13.27">人员和服务人员。义务教育小学外语教育的任</tspan><tspan x="1756.5" dy="13.27">务是为了培养具有现代化知识的劳动后备军，</tspan><tspan x="1756.5" dy="13.27">为造成数以亿计的合格人才打下一定的外语基</tspan><tspan x="1756.5" dy="13.27">础。</tspan></text></g>
<g id="b4-s2"><text class="t" x="1655" y="3132.8">二、教学目的：</text></g>
<g id="b4-s2a"><text class="t" x="1756.5" y="3086.4"><tspan x="1756.5" dy="0">教科书着重向学生介绍日常用的英语和「此文</tspan><tspan x="1756.5" dy="13.27">转载于」书面用语，而且设法通过生动的图片</tspan><tspan x="1756.5" dy="13.27">、富有教育意义的、饶有趣味的课文，与学生</tspan><tspan x="1756.5" dy="13.27">学习和生活有密切联系的活动进行教学，通过</tspan><tspan x="1756.5" dy="13.27">英语教学，使学生受到听、说、读的全面训练</tspan><tspan x="1756.5" dy="13.27">，获得英语基础知识和为交际初步运用英语的</tspan><tspan x="1756.5" dy="13.27">能力，养成良好的学习，为进一步学习英语打</tspan><tspan x="1756.5" dy="13.27">好坚实的基础。</tspan></text></g>
<g id="b4-s3"><text class="t" x="1655" y="3313.2">三、教学措施：</text></g>
<g id="b4-s3a"><text class="t" x="1756.5" y="3224.5"><tspan x="1756.5" dy="0">1、充分利用图片及情景带学生学习，让他们</tspan><tspan x="1756.5" dy="13.27">在课堂内掌握教学任务。</tspan></text></g>
<g id="b4-s3b"><text class="t" x="1756.5" y="3283.8">2、让学生平时多说、多练巩固所学内容。</text></g>
<g id="b4-s3c"><text class="t" x="1756.5" y="3328.7"><tspan x="1756.5" dy="0">3、多让学生对话、表演以培养学生学习的兴</tspan><tspan x="1756.5" dy="13.27">趣。</tspan></text></g>
<g id="b4-s3d"><text class="t" x="1756.5" y="3388.2"><tspan x="1756.5" dy="0">4、在不断复习的过程中，让学生懂得运用英</tspan><tspan x="1756.5" dy="13.27">语进行对话。</tspan></text></g>
<g id="b4-s4"><text class="t" x="1655" y="3453.8">四、教学课时安排：</text></g>
<g id="b4-s4a"><text class="t" x="1777" y="3447.2"><tspan x="1777" dy="0">全册教材共有6个单元，每周3课时上一课，</tspan><tspan x="1777" dy="13.27">共60课时左右完成课文内容。</tspan></text></g>

<g id="rel-items">
<text class="t" x="1712" y="3505.5">★ 人教版高中英语教学计划高三2021</text>
<text class="t" x="1712" y="3551.1">★ 高中英语年度教学计划五篇</text>
<text class="t" x="1712" y="3596.7">★ 新课改高中英语教学计划2021</text>
<text class="t" x="1712" y="3642.3">★ 新学期英语教学计划范文5篇</text>
<text class="t" x="1712" y="3687.9">★ 高中英语学期教学计划模板2021</text>
<text class="t" x="1712" y="3733.5">★ 英语教学计划范文高中2021</text>
<text class="t" x="1712" y="3779.1">★ 高年级英语的下季度教学计划范文</text>
<text class="t" x="1712" y="3824.7">★ 新学期教学计划高中英语2021</text>
<text class="t" x="1712" y="3870.3">★ 英语教师教学计划模板5篇</text>
<text class="t" x="1712" y="3915.9">★ 英语工作教学计划范文5篇</text>
</g>

<g id="watermark">
<text class="wm" transform="translate(346,702) rotate(-31)">树图 shutu.cn</text>
<text class="wm" transform="translate(346,1702) rotate(-31)">树图 shutu.cn</text>
<text class="wm" transform="translate(346,2702) rotate(-31)">树图 shutu.cn</text>
<text class="wm" transform="translate(346,3702) rotate(-31)">树图 shutu.cn</text>
<text class="wm" transform="translate(346,4702) rotate(-31)">树图 shutu.cn</text>
<text class="wm" transform="translate(1627,696) rotate(-31)">树图 shutu.cn</text>
<text class="wm" transform="translate(1627,1696) rotate(-31)">树图 shutu.cn</text>
<text class="wm" transform="translate(1627,2696) rotate(-31)">树图 shutu.cn</text>
<text class="wm" transform="translate(1627,3696) rotate(-31)">树图 shutu.cn</text>
<text class="wm" transform="translate(1627,4696) rotate(-31)">树图 shutu.cn</text>
</g>
</g>
</svg>
